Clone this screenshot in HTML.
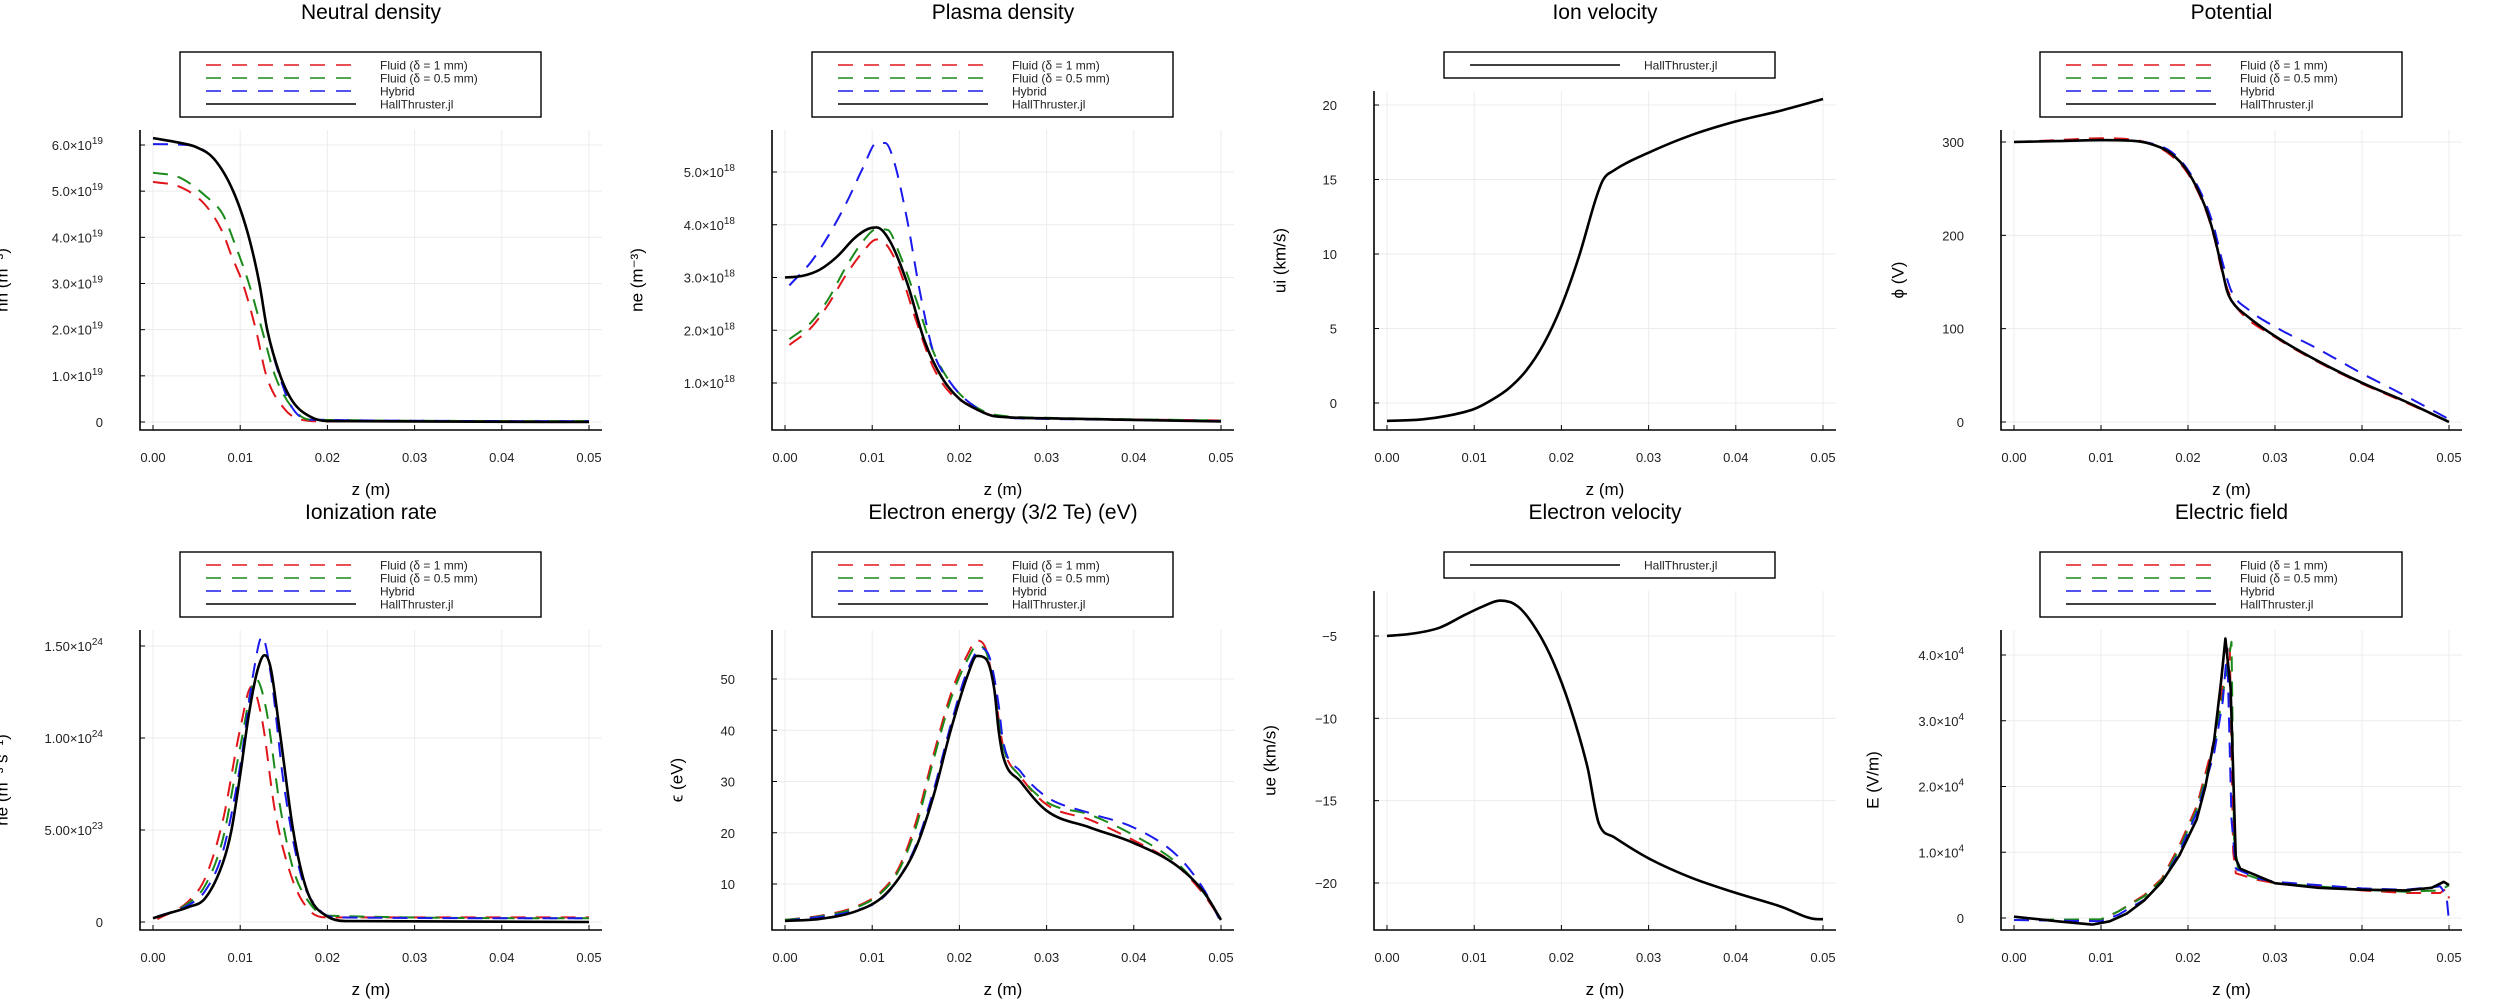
<!DOCTYPE html>
<html><head><meta charset="utf-8"><style>
html,body{margin:0;padding:0;background:#fff;}
svg{display:block;font-family:"Liberation Sans","DejaVu Sans",sans-serif;}
</style></head><body>
<svg id="fig" width="2500" height="1000" viewBox="0 0 2500 1000" xmlns="http://www.w3.org/2000/svg"></svg>
<script>
// ---- data (z in m) ----
const xTicks = [0, 0.01, 0.02, 0.03, 0.04, 0.05];
const xTickLabels = ["0.00","0.01","0.02","0.03","0.04","0.05"];
const seriesNames = ["Fluid (δ = 1 mm)","Fluid (δ = 0.5 mm)","Hybrid","HallThruster.jl"];

// Neutral density (×1e19)
const nnRedZ=[0,0.003,0.006,0.008,0.009,0.0103,0.0118,0.013,0.015,0.017,0.02,0.05];
const nnRedV=[5.2,5.1,4.7,4.1,3.6,3.0,2.0,1.0,0.3,0.05,0.01,0.02];
const nnGreenZ=[0,0.003,0.006,0.008,0.0095,0.011,0.0125,0.014,0.016,0.018,0.05];
const nnGreenV=[5.4,5.3,4.9,4.5,3.8,3.0,2.0,1.0,0.3,0.05,0.02];
const nnBlueZ=[0,0.004,0.007,0.0092,0.011,0.0122,0.0131,0.0145,0.016,0.018,0.05];
const nnBlueV=[6.02,6.0,5.7,5.0,4.0,3.0,2.0,1.0,0.3,0.05,0.02];
const nnBlackZ=[0,0.003,0.005,0.007,0.0092,0.011,0.0122,0.0131,0.0146,0.016,0.018,0.02,0.05];
const nnBlackV=[6.15,6.05,5.95,5.7,5.0,4.0,3.0,2.0,1.0,0.45,0.12,0.02,0];
// Plasma density (×1e18)
const neRedZ=[0.0005,0.003,0.005,0.007,0.009,0.0105,0.0115,0.013,0.015,0.017,0.019,0.021,0.024,0.03,0.05];
const neRedV=[1.72,2.05,2.5,3.05,3.5,3.72,3.65,3.2,2.2,1.3,0.8,0.6,0.38,0.33,0.29];
const neGreenZ=[0.0005,0.003,0.005,0.007,0.009,0.0105,0.0118,0.013,0.015,0.017,0.019,0.021,0.024,0.03,0.05];
const neGreenV=[1.83,2.15,2.6,3.2,3.7,3.92,3.9,3.5,2.6,1.6,1.0,0.65,0.4,0.34,0.29];
const neBlueZ=[0.0005,0.003,0.005,0.007,0.009,0.0105,0.0115,0.0125,0.014,0.0155,0.017,0.019,0.021,0.024,0.03,0.05];
const neBlueV=[2.85,3.3,3.8,4.4,5.1,5.55,5.55,5.2,4.1,2.7,1.6,1.0,0.65,0.37,0.32,0.28];
const neBlackZ=[0,0.002,0.004,0.006,0.008,0.0095,0.0105,0.012,0.014,0.016,0.018,0.02,0.022,0.024,0.03,0.04,0.05];
const neBlackV=[3.0,3.03,3.15,3.4,3.75,3.92,3.95,3.7,2.9,1.8,1.1,0.7,0.5,0.37,0.33,0.3,0.27];
// Ion velocity (km/s)
const uiZ=[0,0.004,0.007,0.01,0.012,0.014,0.016,0.018,0.02,0.022,0.024,0.0248,0.026,0.03,0.035,0.04,0.045,0.05];
const uiV=[-1.2,-1.1,-0.85,-0.4,0.2,1.0,2.2,4.0,6.5,9.8,13.8,15.0,15.6,16.8,18.0,18.9,19.6,20.4];
// Potential (V)
const phiRedZ=[0,0.005,0.01,0.014,0.016,0.018,0.02,0.022,0.023,0.024,0.025,0.026,0.03,0.035,0.04,0.045,0.05];
const phiRedV=[300,302,304,302,297,286,266,228,198,158,132,118,91,64,41,21,0];
const phiGreenZ=[0,0.005,0.01,0.014,0.016,0.018,0.02,0.022,0.023,0.024,0.0245,0.025,0.027,0.03,0.035,0.04,0.045,0.05];
const phiGreenV=[300,301,302,301,297,288,268,230,200,160,140,130,112,92,65,42,22,0];
const phiBlueZ=[0,0.005,0.01,0.014,0.016,0.018,0.02,0.022,0.023,0.024,0.025,0.027,0.03,0.035,0.04,0.045,0.05];
const phiBlueV=[300,301,302,301,298,290,270,235,208,170,140,120,102,78,52,28,3];
const phiBlackZ=[0,0.005,0.01,0.014,0.016,0.018,0.02,0.022,0.023,0.024,0.0245,0.025,0.027,0.03,0.035,0.04,0.045,0.05];
const phiBlackV=[300,301,302,301,297,288,268,230,200,160,140,130,112,92,65,42,22,0];
// Ionization rate (×1e23)
const izRedZ=[0.0005,0.004,0.006,0.008,0.01,0.0113,0.0125,0.014,0.016,0.018,0.02,0.05];
const izRedV=[0.15,1.1,2.4,5.5,10.5,12.8,11,6,2.3,0.6,0.25,0.25];
const izGreenZ=[0.0005,0.004,0.006,0.008,0.01,0.0118,0.013,0.0145,0.016,0.018,0.02,0.05];
const izGreenV=[0.25,1.0,2.0,4.5,9.5,13.2,11.5,6.5,3.0,1.0,0.35,0.2];
const izBlueZ=[0.0005,0.004,0.006,0.008,0.01,0.0115,0.0125,0.0135,0.015,0.017,0.019,0.021,0.05];
const izBlueV=[0.3,0.9,1.7,3.8,8.5,13.5,15.5,13.5,7.5,2.5,0.7,0.25,0.2];
const izBlackZ=[0,0.002,0.004,0.006,0.008,0.009,0.01,0.011,0.012,0.0128,0.0135,0.0145,0.016,0.017,0.018,0.02,0.022,0.05];
const izBlackV=[0.2,0.5,0.8,1.3,3.2,5.0,8.0,11.3,13.7,14.5,13.8,10.5,5.2,2.8,1.3,0.3,0.05,0];
// Electron energy (eV)
const enRedZ=[0,0.004,0.008,0.011,0.013,0.015,0.017,0.019,0.021,0.022,0.023,0.024,0.025,0.027,0.03,0.035,0.04,0.045,0.048,0.05];
const enRedV=[3,3.8,5.5,8.5,13,22,35,47,55,57.5,56,48,37,31,25.5,22.5,18.5,13.5,8,3];
const enGreenZ=[0,0.004,0.008,0.011,0.013,0.015,0.017,0.019,0.021,0.022,0.023,0.024,0.025,0.027,0.03,0.035,0.04,0.045,0.048,0.05];
const enGreenV=[3,3.7,5.3,8.2,12.5,21,34,46,54,56.5,55.5,48,37,31,26,23.5,19.5,14,8.3,3];
const enBlueZ=[0,0.008,0.011,0.013,0.015,0.017,0.019,0.021,0.0225,0.0235,0.0245,0.025,0.027,0.03,0.035,0.04,0.045,0.048,0.05];
const enBlueV=[2.8,4.8,7,11,17.5,28,41,52,56,54,45,38,32,27,23.8,21,15.5,9,2.5];
const enBlackZ=[0,0.004,0.008,0.011,0.013,0.015,0.017,0.019,0.021,0.022,0.023,0.024,0.0245,0.025,0.027,0.03,0.035,0.04,0.045,0.048,0.05];
const enBlackV=[2.8,3.2,4.6,7.2,11,17,27,40,51,54.5,54,48,40,35,30,24.3,21,18,13.5,8.5,3];
// Electron velocity (km/s)
const ueZ=[0,0.003,0.006,0.009,0.011,0.013,0.015,0.017,0.019,0.021,0.023,0.0243,0.026,0.03,0.035,0.04,0.045,0.0495,0.05];
const ueV=[-5.0,-4.85,-4.5,-3.7,-3.2,-2.85,-3.2,-4.5,-6.5,-9.3,-13,-16.4,-17.2,-18.5,-19.7,-20.6,-21.4,-22.2,-22.2];
// Electric field (×1e4)
const efRedZ=[0,0.01,0.012,0.015,0.017,0.019,0.021,0.023,0.024,0.0248,0.0252,0.0255,0.028,0.03,0.04,0.045,0.049,0.0497,0.05];
const efRedV=[-0.03,-0.03,0.1,0.35,0.6,1.1,1.7,2.7,3.5,4.1,1.0,0.68,0.58,0.53,0.42,0.38,0.38,0.45,0.3];
const efGreenZ=[0,0.01,0.012,0.015,0.017,0.019,0.021,0.023,0.024,0.025,0.0253,0.0258,0.028,0.03,0.04,0.045,0.049,0.05];
const efGreenV=[-0.03,-0.02,0.1,0.33,0.58,1.05,1.65,2.6,3.4,4.2,1.2,0.7,0.6,0.53,0.43,0.4,0.42,0.5];
const efBlueZ=[0,0.01,0.012,0.015,0.017,0.019,0.021,0.023,0.024,0.0245,0.025,0.0255,0.028,0.03,0.04,0.045,0.049,0.0497,0.05];
const efBlueV=[-0.03,-0.05,0.05,0.28,0.55,1.0,1.6,2.5,3.3,4.1,1.5,0.75,0.6,0.55,0.45,0.43,0.48,0.35,-0.05];
const efBlackZ=[0,0.005,0.009,0.011,0.013,0.015,0.017,0.019,0.021,0.022,0.023,0.0238,0.0243,0.0249,0.0255,0.026,0.03,0.035,0.04,0.045,0.048,0.0494,0.05];
const efBlackV=[0.02,-0.05,-0.1,-0.05,0.07,0.27,0.55,0.95,1.5,2.0,2.7,3.6,4.25,3.5,0.9,0.75,0.53,0.46,0.43,0.42,0.46,0.55,0.5];

// y tick values & labels
const nnTicks=[0,1,2,3,4,5,6], nnLabels=["0","1.0×10^19","2.0×10^19","3.0×10^19","4.0×10^19","5.0×10^19","6.0×10^19"];
const neTicks=[1,2,3,4,5], neLabels=["1.0×10^18","2.0×10^18","3.0×10^18","4.0×10^18","5.0×10^18"];
const uiTicks=[0,5,10,15,20], uiLabels=["0","5","10","15","20"];
const phiTicks=[0,100,200,300], phiLabels=["0","100","200","300"];
const izTicks=[0,5,10,15], izLabels=["0","5.00×10^23","1.00×10^24","1.50×10^24"];
const enTicks=[10,20,30,40,50], enLabels=["10","20","30","40","50"];
const ueTicks=[-5,-10,-15,-20], ueLabels=["−5","−10","−15","−20"];
const efTicks=[0,1,2,3,4], efLabels=["0","1.0×10^4","2.0×10^4","3.0×10^4","4.0×10^4"];

const COLORS=["#e0161b","#1a8a1a","#1a1aec","#000"];
const NS="http://www.w3.org/2000/svg";
const svg=document.getElementById("fig");
function mk(tag,attrs,parent){const e=document.createElementNS(NS,tag);for(const k in attrs)e.setAttribute(k,attrs[k]);(parent||svg).appendChild(e);return e;}

// monotone cubic (Fritsch-Carlson) path
function smoothPath(pts){
  const n=pts.length;
  if(n<2)return "";
  const d=[],m=[];
  for(let i=0;i<n-1;i++){const dx=pts[i+1][0]-pts[i][0];d.push(dx===0?0:(pts[i+1][1]-pts[i][1])/dx);}
  m[0]=d[0];m[n-1]=d[n-2];
  for(let i=1;i<n-1;i++){m[i]=(d[i-1]*d[i]<=0)?0:(d[i-1]+d[i])/2;}
  for(let i=0;i<n-1;i++){
    if(d[i]===0){m[i]=0;m[i+1]=0;continue;}
    const a=m[i]/d[i],b=m[i+1]/d[i],s=a*a+b*b;
    if(s>9){const t=3/Math.sqrt(s);m[i]=t*a*d[i];m[i+1]=t*b*d[i];}
  }
  let p="M"+pts[0][0].toFixed(1)+","+pts[0][1].toFixed(1);
  for(let i=0;i<n-1;i++){
    const h=(pts[i+1][0]-pts[i][0])/3;
    p+=" C"+(pts[i][0]+h).toFixed(1)+","+(pts[i][1]+m[i]*h).toFixed(1)+" "+(pts[i+1][0]-h).toFixed(1)+","+(pts[i+1][1]-m[i+1]*h).toFixed(1)+" "+pts[i+1][0].toFixed(1)+","+pts[i+1][1].toFixed(1);
  }
  return p;
}
function linePath(pts){return "M"+pts.map(p=>p[0].toFixed(1)+","+p[1].toFixed(1)).join(" L");}

function tickText(g,x,y,label){
  const t=mk("text",{x:x,y:y,"text-anchor":"end","font-size":"13",fill:"#222"},g);
  
  
  const parts=label.split("^");
  if(parts.length===2){
    const a=mk("tspan",{},t);a.textContent=parts[0];
    const b=mk("tspan",{dy:"-6","font-size":"10"},t);b.textContent=parts[1];
  } else t.textContent=label;
}

function panel(cfg){
  const g=mk("g",{});
  
  
  const X=z=>cfg.zx0+(z-0)/(0.05)*(cfg.zx1-cfg.zx0);
  const Y=v=>cfg.py0+(v-cfg.v0)/(cfg.v1-cfg.v0)*(cfg.py1-cfg.py0);
  xTicks.forEach(t=>{const l=mk("line",{x1:X(t),x2:X(t),y1:cfg.top,y2:cfg.bottom,stroke:"#ececec","stroke-width":1},g);
    
    });
  cfg.yt.forEach(t=>{const l=mk("line",{x1:cfg.left,x2:cfg.right,y1:Y(t),y2:Y(t),stroke:"#ececec","stroke-width":1},g);
    
    });
  const ax=mk("path",{d:`M${cfg.left},${cfg.top} L${cfg.left},${cfg.bottom} L${cfg.right},${cfg.bottom}`,fill:"none",stroke:"#000","stroke-width":1.6},g);
  
  
  xTicks.forEach((t,i)=>{
    mk("line",{x1:X(t),x2:X(t),y1:cfg.bottom,y2:cfg.bottom-5,stroke:"#000","stroke-width":1},g);
    const tx=mk("text",{x:X(t),y:cfg.bottom+32,"text-anchor":"middle","font-size":"13",fill:"#222"},g);
    
    
    tx.textContent=xTickLabels[i];
  });
  cfg.yt.forEach((t,i)=>{
    mk("line",{x1:cfg.left,x2:cfg.left+5,y1:Y(t),y2:Y(t),stroke:"#000","stroke-width":1},g);
    tickText(g,cfg.left-37,Y(t)+5,cfg.yl[i]);
  });
  cfg.series.forEach((s,i)=>{
    const pts=s.z.map((z,k)=>[X(z),Y(s.v[k])]);
    const p=mk("path",{d:cfg.linear?linePath(pts):smoothPath(pts),fill:"none",stroke:COLORS[s.c],"stroke-width":s.c===3?2.6:2,"stroke-dasharray":s.c===3?"none":"15,10","stroke-linejoin":"round"},g);
    
    
  });
  const ti=mk("text",{x:(cfg.left+cfg.right)/2,y:cfg.oy+19,"text-anchor":"middle","font-size":"21",fill:"#000"},g);
  
  
  ti.textContent=cfg.title;
  const xl=mk("text",{x:(cfg.left+cfg.right)/2,y:cfg.oy+495,"text-anchor":"middle","font-size":"17",fill:"#000"},g);
  
  
  xl.textContent="z (m)";
  const yc=(cfg.top+cfg.bottom)/2;
  const yl=mk("text",{x:cfg.ylx,y:yc,"text-anchor":"middle","font-size":"17",fill:"#000",transform:`rotate(-90 ${cfg.ylx} ${yc})`,"dominant-baseline":"central"},g);
  
  
  yl.textContent=cfg.ylabel;
  const lg=mk("g",{},g);
  
  
  const n=cfg.series.length;
  const lb=cfg.oy+52, lh=n===1?26:65;
  mk("rect",{x:cfg.lgx,y:lb,width:cfg.lgw,height:lh,fill:"#fff",stroke:"#000","stroke-width":1.4},lg);
  cfg.series.forEach((s,i)=>{
    const ry=n===1?lb+13:lb+13+i*13;
    const e=mk("g",{},lg);
    
    
    const x0=cfg.lgx+26;
    mk("line",{x1:x0,x2:x0+150,y1:ry,y2:ry,stroke:COLORS[s.c],"stroke-width":s.c===3?1.6:1.5,"stroke-dasharray":s.c===3?"none":"15,11"},e);
    const t=mk("text",{x:cfg.lgx+200,y:ry+4.5,"font-size":"12",fill:"#222"},e);
    t.textContent=n===1?seriesNames[3]:seriesNames[s.c];
  });
}
function four(a,b,c,d){return [{z:a[0],v:a[1],c:0},{z:b[0],v:b[1],c:1},{z:c[0],v:c[1],c:2},{z:d[0],v:d[1],c:3}];}

panel({name:"neutral-density-panel",title:"Neutral density",ylabel:"nn (m⁻³)",oy:0,left:140,right:602,top:130,bottom:430,zx0:153,zx1:589,v0:0,v1:6,py0:422,py1:145,yt:nnTicks,yl:nnLabels,ylx:2,lgx:180,lgw:361,
  series:four([nnRedZ,nnRedV],[nnGreenZ,nnGreenV],[nnBlueZ,nnBlueV],[nnBlackZ,nnBlackV])});
panel({name:"plasma-density-panel",title:"Plasma density",ylabel:"ne (m⁻³)",oy:0,left:772,right:1234,top:130,bottom:430,zx0:785,zx1:1221,v0:1,v1:5,py0:383,py1:172,yt:neTicks,yl:neLabels,ylx:637,lgx:812,lgw:361,
  series:four([neRedZ,neRedV],[neGreenZ,neGreenV],[neBlueZ,neBlueV],[neBlackZ,neBlackV])});
panel({name:"ion-velocity-panel",title:"Ion velocity",ylabel:"ui (km/s)",oy:0,left:1374,right:1836,top:91,bottom:430,zx0:1387,zx1:1823,v0:0,v1:20,py0:403,py1:105,yt:uiTicks,yl:uiLabels,ylx:1280,lgx:1444,lgw:331,
  series:[{z:uiZ,v:uiV,c:3}]});
panel({name:"potential-panel",title:"Potential",ylabel:"ϕ (V)",oy:0,left:2001,right:2462,top:130,bottom:430,zx0:2014,zx1:2449,v0:0,v1:300,py0:422,py1:142,yt:phiTicks,yl:phiLabels,ylx:1898,lgx:2040,lgw:362,
  series:four([phiRedZ,phiRedV],[phiGreenZ,phiGreenV],[phiBlueZ,phiBlueV],[phiBlackZ,phiBlackV])});
panel({name:"ionization-rate-panel",title:"Ionization rate",ylabel:"ṅe (m⁻³ s⁻¹)",oy:500,left:140,right:602,top:630,bottom:930,zx0:153,zx1:589,v0:0,v1:15,py0:922,py1:646,yt:izTicks,yl:izLabels,ylx:2,lgx:180,lgw:361,
  series:four([izRedZ,izRedV],[izGreenZ,izGreenV],[izBlueZ,izBlueV],[izBlackZ,izBlackV])});
panel({name:"electron-energy-panel",title:"Electron energy (3/2 Te) (eV)",ylabel:"ϵ (eV)",oy:500,left:772,right:1234,top:630,bottom:930,zx0:785,zx1:1221,v0:10,v1:50,py0:884,py1:679,yt:enTicks,yl:enLabels,ylx:677,lgx:812,lgw:361,
  series:four([enRedZ,enRedV],[enGreenZ,enGreenV],[enBlueZ,enBlueV],[enBlackZ,enBlackV])});
panel({name:"electron-velocity-panel",title:"Electron velocity",ylabel:"ue (km/s)",oy:500,left:1374,right:1836,top:591,bottom:930,zx0:1387,zx1:1823,v0:-5,v1:-20,py0:636,py1:883,yt:ueTicks,yl:ueLabels,ylx:1270,lgx:1444,lgw:331,
  series:[{z:ueZ,v:ueV,c:3}]});
panel({name:"electric-field-panel",title:"Electric field",ylabel:"E (V/m)",oy:500,left:2001,right:2462,top:630,bottom:930,zx0:2014,zx1:2449,v0:0,v1:4,py0:918,py1:655,yt:efTicks,yl:efLabels,ylx:1873,lgx:2040,lgw:362,linear:true,
  series:four([efRedZ,efRedV],[efGreenZ,efGreenV],[efBlueZ,efBlueV],[efBlackZ,efBlackV])});
</script>
</body></html>
